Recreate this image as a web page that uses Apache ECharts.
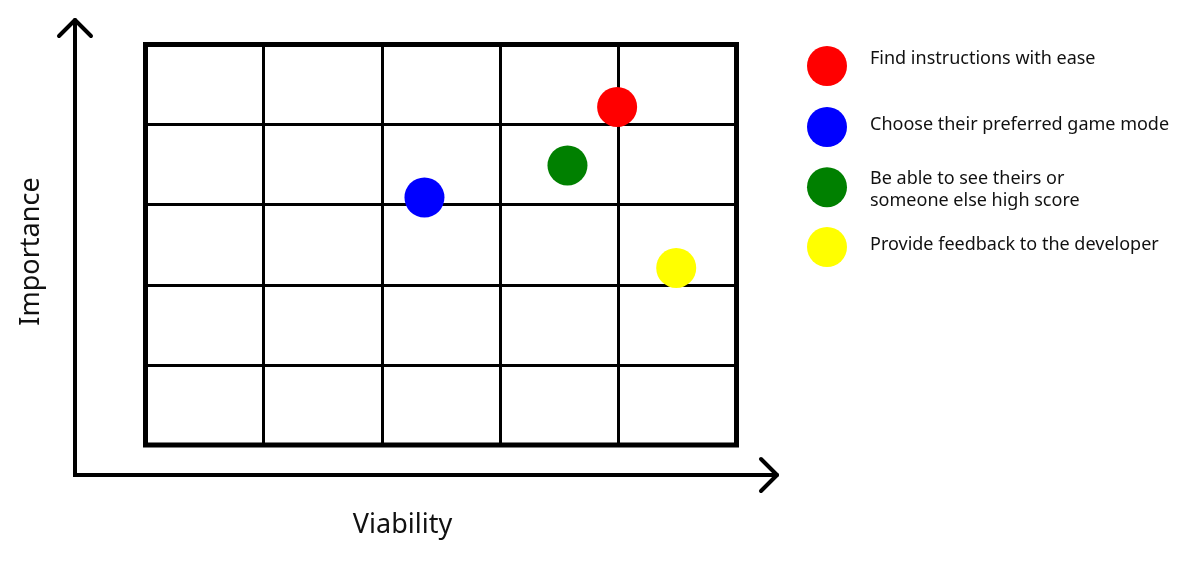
<!DOCTYPE html>
<html>
<head>
<meta charset="utf-8">
<style>
html,body{margin:0;padding:0;background:#fff;}
#chart{width:1192px;height:580px;}
</style>
<script src="https://cdn.jsdelivr.net/npm/echarts@6/dist/echarts.min.js"></script>
</head>
<body>
<div id="chart"></div>
<script>
const categories = [
  'Find instructions with ease',
  'Choose their preferred game mode',
  'Be able to see theirs or\nsomeone else high score',
  'Provide feedback to the developer'
];
const colors = ['#ff0000', '#0000ff', '#008000', '#ffff00'];
const viability = [3.99, 2.36, 3.57, 4.49];
const importance = [4.22, 3.09, 3.49, 2.21];
const xAxisName = 'Viability';
const yAxisName = 'Importance';

const FONT = '"Noto Sans", Roboto, sans-serif';
const chart = echarts.init(document.getElementById('chart'), null, {renderer: 'canvas'});

// legend layout (style only)
const legendTops = [46, 107, 164.2, 227];
const legendSpacer = [14, 4, 6, 4];   // px spacer below (single line) / above (multi line)

const legends = categories.map((name, i) => {
  const multi = name.indexOf('\n') >= 0;
  return {
    data: [name],
    orient: 'vertical',
    left: 807,
    top: legendTops[i],
    icon: 'circle',
    itemWidth: 40,
    itemHeight: 40,
    itemGap: 0,
    padding: 0,
    selectedMode: false,
    formatter: function (n) {
      const lines = n.split('\n').map(l => '{t|' + l + '}');
      return multi ? '{s| }\n' + lines.join('\n') : lines.join('\n') + '\n{s| }';
    },
    textStyle: {
      fontFamily: FONT,
      fontSize: 18,
      color: '#111',
      padding: [0, 0, 0, 18],
      rich: {
        t: {fontFamily: FONT, fontSize: 18, lineHeight: 22, color: '#111'},
        s: {fontSize: 2, lineHeight: legendSpacer[i]}
      }
    }
  };
});

const axisCommon = {
  type: 'value',
  min: 0,
  max: 5,
  interval: 1,
  axisLabel: {show: false},
  axisTick: {show: false},
  axisLine: {show: false},
  splitLine: {show: true, lineStyle: {color: '#000', width: 3}}
};

const option = {
  backgroundColor: '#fff',
  animation: false,
  grid: {
    left: 145.5, top: 44.5, width: 591, height: 400.5,
    show: true, borderColor: '#000', borderWidth: 5, backgroundColor: 'transparent'
  },
  legend: legends,
  xAxis: Object.assign({}, axisCommon),
  yAxis: Object.assign({}, axisCommon),
  series: categories.map((name, i) => ({
    type: 'scatter',
    name: name,
    symbol: 'circle',
    symbolSize: 40,
    itemStyle: {color: colors[i], opacity: 1},
    z: 5,
    data: [[viability[i], importance[i]]]
  })),
  graphic: [
    {type: 'polyline', shape: {points: [[75, 20], [75, 475], [777, 475]]},
     style: {stroke: '#000', lineWidth: 4, fill: null, lineCap: 'round', lineJoin: 'miter'}},
    {type: 'polyline', shape: {points: [[59, 36], [75, 20], [91, 36]]},
     style: {stroke: '#000', lineWidth: 4, fill: null, lineCap: 'round', lineJoin: 'round'}},
    {type: 'polyline', shape: {points: [[761, 459], [777, 475], [761, 491]]},
     style: {stroke: '#000', lineWidth: 4, fill: null, lineCap: 'round', lineJoin: 'round'}},
    {type: 'text', x: 402.5, y: 525,
     style: {text: xAxisName, fontFamily: FONT, fontSize: 27, fill: '#111', align: 'center', verticalAlign: 'middle'}},
    {type: 'text', x: 31, y: 251.5, rotation: Math.PI / 2,
     style: {text: yAxisName, fontFamily: FONT, fontSize: 27, fill: '#111', align: 'center', verticalAlign: 'middle'}}
  ]
};
chart.setOption(option);
</script>
</body>
</html>
